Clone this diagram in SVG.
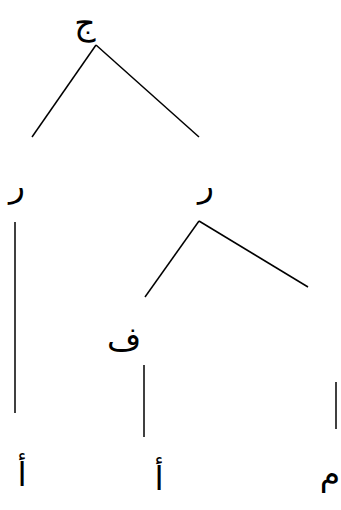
<svg xmlns="http://www.w3.org/2000/svg" width="341" height="510" viewBox="0 0 341 510">
<style>
.lbl{font-family:"DejaVu Sans",sans-serif;font-size:33px;fill:#000;text-anchor:middle}
.e{stroke:#000;stroke-width:1.5;fill:none}
</style>
<rect width="341" height="510" fill="#fff"/>
<g id="edges">
<line class="e" x1="96" y1="45" x2="32" y2="137"/>
<line class="e" x1="96" y1="45" x2="199" y2="137"/>
<line class="e" x1="15" y1="222" x2="15" y2="413"/>
<line class="e" x1="199" y1="221" x2="145" y2="297"/>
<line class="e" x1="199" y1="221" x2="308" y2="287"/>
<line class="e" x1="144" y1="365" x2="144" y2="437"/>
<line class="e" x1="336" y1="382" x2="336" y2="429"/>
</g>
<g id="n_jim"><text class="lbl" x="85" y="34">ج</text></g>
<g id="n_ra1"><text class="lbl" x="17" y="197">ر</text></g>
<g id="n_ra2"><text class="lbl" x="206" y="197">ر</text></g>
<g id="n_fa"><text class="lbl" x="124" y="351">ف</text></g>
<g id="n_alif1"><text class="lbl" x="22" y="486">أ</text></g>
<g id="n_alif2"><text class="lbl" x="159" y="490">أ</text></g>
<g id="n_mim"><text class="lbl" x="330" y="485">م</text></g>
</svg>
